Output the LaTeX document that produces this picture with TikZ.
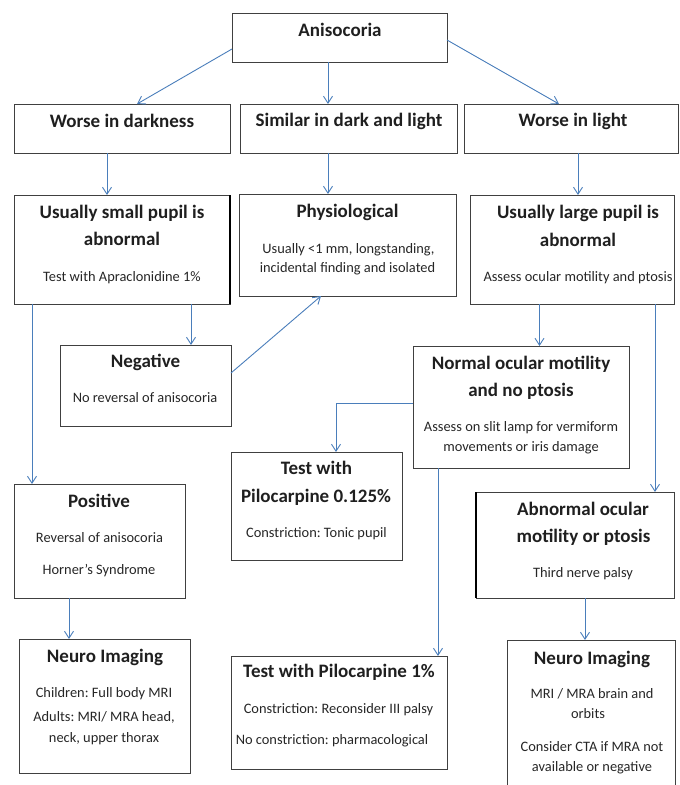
\documentclass[tikz,border=0pt]{standalone}
\usepackage{fontspec}
\setmainfont{Carlito}
\frenchspacing
\usetikzlibrary{arrows.meta,calc}
\definecolor{arrowblue}{HTML}{4A7EBB}
\tikzset{
  boxst/.style={draw=black!75, line width=0.8pt, inner sep=0pt, outer sep=0pt, anchor=north west},
  ttl/.style={anchor=base, inner sep=0pt, text=black!88, font=\fontsize{19}{23}\selectfont\bfseries},
  bdy/.style={anchor=base, inner sep=0pt, text=black!85, font=\fontsize{14.4}{17}\selectfont},
  arr/.style={draw=arrowblue, line width=0.9pt, -{Straight Barb[length=7pt,width=9pt]}},
  edgeline/.style={draw=black, line width=1.8pt}
}
\newcommand\mkbox[5]{\node[boxst, minimum width={(#4-#2)*1pt}, minimum height={(#5-#3)*1pt}] (#1) at (#2,#3) {};}
\begin{document}
\begin{tikzpicture}[x=1pt,y=-1pt]
\useasboundingbox (0,0) rectangle (680,785);
\clip (0,0) rectangle (680,785);
% boxes
\mkbox{aniso}{232}{13}{447}{62}
\mkbox{dark}{14}{104}{230}{153}
\mkbox{similar}{240}{104}{457}{153}
\mkbox{light}{464}{104}{678}{153}
\mkbox{small}{14}{195}{230}{304}
\mkbox{phys}{239}{194}{456}{296}
\mkbox{large}{470}{195}{674}{304}
\mkbox{neg}{60}{345}{231}{426}
\mkbox{normal}{413}{346}{629}{468}
\mkbox{pilosmall}{231}{452}{402}{560}
\mkbox{positive}{14}{484}{185}{598}
\mkbox{abnormal}{476}{492}{674}{598}
\mkbox{neuroL}{19}{639}{190}{773}
\mkbox{pilobig}{231}{656}{447}{769}
\mkbox{neuroR}{507}{640}{675}{800}
\draw[edgeline] (small.north east) -- (small.south east);
\draw[edgeline] (abnormal.north west) -- (abnormal.south west);
% titles
\node[ttl] (t1) at (340,36) {Anisocoria};
\node[ttl] (t2) at (122,127) {Worse in darkness};
\node[ttl] (t3) at (349,126.5) {Similar in dark and light};
\node[ttl] (t4) at (573,126.5) {Worse in light};
\node[ttl] (t5) at (122,218.5) {Usually small pupil is};
\node[ttl] (t6) at (122,245.5) {abnormal};
\node[ttl] (t7) at (347.5,217) {Physiological};
\node[ttl] (t8) at (578,218.5) {Usually large pupil is};
\node[ttl] (t9) at (578,246.5) {abnormal};
\node[ttl] (t10) at (145.5,367) {Negative};
\node[ttl] (t11) at (521,369.5) {Normal ocular motility};
\node[ttl] (t12) at (521,396) {and no ptosis};
\node[ttl] (t13) at (316.5,474.5) {Test with};
\node[ttl] (t14) at (316,502) {Pilocarpine 0.125\%};
\node[ttl] (t15) at (99,507) {Positive};
\node[ttl] (t16) at (583,515) {Abnormal ocular};
\node[ttl] (t17) at (583.5,542) {motility or ptosis};
\node[ttl] (t18) at (105,662) {Neuro Imaging};
\node[ttl] (t19) at (339,677) {Test with Pilocarpine 1\%};
\node[ttl] (t20) at (592,664) {Neuro Imaging};
% body
\node[bdy] (b1) at (122,281) {Test with Apraclonidine 1\%};
\node[bdy] (b2) at (348.5,253) {Usually <1 mm, longstanding,};
\node[bdy] (b3) at (347.5,272) {incidental finding and isolated};
\node[bdy] (b4) at (578,281) {Assess ocular motility and ptosis};
\node[bdy] (b5) at (145,402.5) {No reversal of anisocoria};
\node[bdy] (b6) at (521,431) {Assess on slit lamp for vermiform};
\node[bdy] (b7) at (521,451) {movements or iris damage};
\node[bdy] (b8) at (316.5,537) {Constriction: Tonic pupil};
\node[bdy] (b9) at (99.5,542) {Reversal of anisocoria};
\node[bdy] (b10) at (99,574.5) {Horner’s Syndrome};
\node[bdy] (b11) at (583,577) {Third nerve palsy};
\node[bdy] (b12) at (104,697) {Children: Full body MRI};
\node[bdy] (b13) at (104,721) {Adults: MRI/ MRA head,};
\node[bdy] (b14) at (104,742) {neck, upper thorax};
\node[bdy] (b15) at (338.5,713.5) {Constriction: Reconsider III palsy};
\node[bdy] (b16) at (332,744.5) {No constriction: pharmacological};
\node[bdy] (b17) at (592,698.5) {MRI / MRA brain and};
\node[bdy] (b18) at (588,718) {orbits};
\node[bdy] (b19) at (592,751) {Consider CTA if MRA not};
\node[bdy] (b20) at (592,771) {available or negative};
% connectors
\draw[arr] ($(aniso.north west)+(0,36)$) -- ($(dark.north west)+(123,0)$);
\draw[arr] ($(aniso.south west)+(96,0)$) -- ($(similar.north west)+(88,0)$);
\draw[arr] ($(aniso.north east)+(0,27)$) -- ($(light.north west)+(95,0)$);
\draw[arr] ($(dark.south west)+(93,0)$) -- ($(small.north west)+(93,0)$);
\draw[arr] ($(similar.south west)+(88,0)$) -- ($(phys.north west)+(89,0)$);
\draw[arr] ($(light.south west)+(114,0)$) -- ($(large.north west)+(108,0)$);
\draw[arr] ($(small.south west)+(177,0)$) -- ($(neg.north west)+(131,0)$);
\draw[arr] ($(neg.north east)+(0,28)$) -- ($(phys.south west)+(82,0)$);
\draw[arr] ($(small.south west)+(18,0)$) -- ($(positive.north west)+(18,0)$);
\draw[arr] ($(positive.south west)+(55,0)$) -- ($(neuroL.north west)+(50,0)$);
\draw[arr] ($(large.south west)+(69.5,0)$) -- ($(normal.north west)+(126.5,0)$);
\draw[arr] ($(large.south west)+(185,0)$) -- ($(abnormal.north west)+(179,0)$);
\draw[arr] ($(normal.north west)+(0,57)$) -| ($(pilosmall.north west)+(105,0)$);
\draw[arr] ($(normal.south west)+(25,0)$) -- ($(pilobig.north west)+(207,0)$);
\draw[arr] ($(abnormal.south west)+(109,0)$) -- ($(neuroR.north west)+(78,0)$);
\end{tikzpicture}
\end{document}
